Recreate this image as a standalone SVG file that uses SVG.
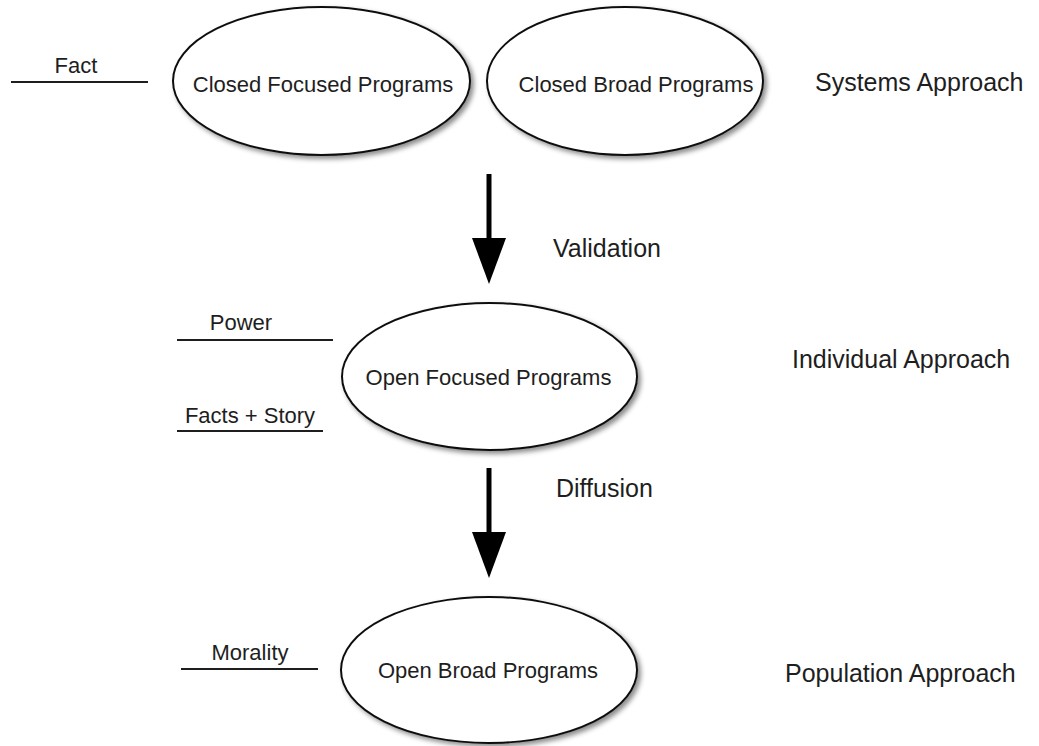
<svg xmlns="http://www.w3.org/2000/svg" width="1039" height="746" viewBox="0 0 1039 746">
  <style>
    .node ellipse { fill: #ffffff; stroke: #111111; stroke-width: 2; filter: url(#shadow); }
    .t { font-family: "Liberation Sans", Arial, Helvetica, sans-serif; fill: #1e1e1e; }
    .s { font-size: 22px; }
    .b { font-size: 25px; }
    .rule { stroke: #1e1e1e; stroke-width: 2.2; }
    .arrow { stroke: #000000; stroke-width: 5; fill: none; marker-end: url(#head); }
  </style>
  <defs>
    <filter id="shadow" x="-10%" y="-10%" width="125%" height="130%">
      <feDropShadow dx="3" dy="3" stdDeviation="2.5" flood-color="#000000" flood-opacity="0.45"/>
    </filter>
    <marker id="head" markerUnits="userSpaceOnUse" markerWidth="46" markerHeight="34" refX="12" refY="17" orient="auto" viewBox="0 0 46 34">
      <path d="M0,0 L46,17 L0,34 Z" fill="#000000"/>
    </marker>
  </defs>
  <rect x="0" y="0" width="1039" height="746" fill="#ffffff"/>

  <g id="connectors">
    <line class="arrow" x1="489" y1="174" x2="489" y2="250"/>
    <line class="arrow" x1="489" y1="468" x2="489" y2="544"/>
  </g>

  <g id="closed-focused" class="node">
    <ellipse cx="321.5" cy="81" rx="148.5" ry="74"/>
    <text class="t s" x="323" y="92" text-anchor="middle">Closed Focused Programs</text>
  </g>
  <g id="closed-broad" class="node">
    <ellipse cx="625" cy="81" rx="138" ry="74"/>
    <text class="t s" x="636" y="92" text-anchor="middle">Closed Broad Programs</text>
  </g>
  <g id="open-focused" class="node">
    <ellipse cx="489.5" cy="376.5" rx="147.5" ry="73.5"/>
    <text class="t s" x="488.5" y="385" text-anchor="middle">Open Focused Programs</text>
  </g>
  <g id="open-broad" class="node">
    <ellipse cx="489" cy="670" rx="148" ry="73"/>
    <text class="t s" x="488" y="678" text-anchor="middle">Open Broad Programs</text>
  </g>

  <g id="side-labels">
    <text class="t s" x="76" y="73" text-anchor="middle">Fact</text>
    <line class="rule" x1="11" y1="82" x2="148" y2="82"/>
    <text class="t s" x="241" y="330" text-anchor="middle">Power</text>
    <line class="rule" x1="177" y1="340" x2="333" y2="340"/>
    <text class="t s" x="250" y="423" text-anchor="middle">Facts + Story</text>
    <line class="rule" x1="177" y1="431" x2="323" y2="431"/>
    <text class="t s" x="250" y="660" text-anchor="middle">Morality</text>
    <line class="rule" x1="181" y1="669" x2="318" y2="669"/>
  </g>

  <g id="approach-labels">
    <text class="t b" x="815" y="91">Systems Approach</text>
    <text class="t b" x="792" y="368">Individual Approach</text>
    <text class="t b" x="785" y="682">Population Approach</text>
  </g>

  <g id="arrow-labels">
    <text class="t b" x="553" y="257">Validation</text>
    <text class="t b" x="556" y="497">Diffusion</text>
  </g>
</svg>
